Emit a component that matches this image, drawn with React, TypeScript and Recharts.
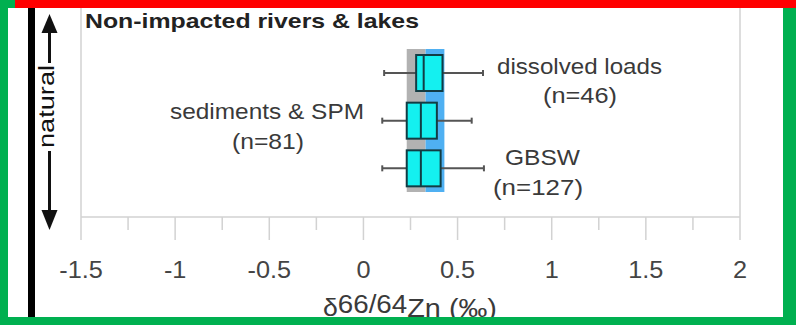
import { Bar, ComposedChart, ReferenceArea, ReferenceLine, XAxis, YAxis } from 'recharts';

// box plot rows, top to bottom
const groups = ['dissolved loads', 'sediments & SPM', 'GBSW'];
const counts = [46, 81, 127];
const whiskerLow = [0.11, 0.1, 0.1];
const q1 = [0.28, 0.23, 0.23];
const median = [0.32, 0.305, 0.305];
const q3 = [0.42, 0.39, 0.41];
const whiskerHigh = [0.635, 0.575, 0.64];

// shaded reference ranges
const grayRange = [0.23, 0.33];
const blueRange = [0.33, 0.43];

const majorTicks = [-1.5, -1, -0.5, 0, 0.5, 1, 1.5, 2];
const minorTicks = [-1.25, -0.75, -0.25, 0.25, 0.75, 1.25, 1.75];

const rows = groups.map((name, i) => ({
  name,
  n: counts[i],
  lo: whiskerLow[i],
  q1: q1[i],
  med: median[i],
  q3: q3[i],
  hi: whiskerHigh[i],
}));

const FONT = '"Liberation Sans", Arial, sans-serif';

function BoxShape(props: any) {
  const { x, y, width, height, payload } = props;
  const ppu = width / (payload.hi - payload.lo);
  const px = (v: number) => x + (v - payload.lo) * ppu;
  const mid = y + height / 2;
  return (
    <g>
      <line x1={px(payload.lo)} x2={px(payload.hi)} y1={mid} y2={mid} stroke="#555" strokeWidth={2} />
      <line x1={px(payload.lo)} x2={px(payload.lo)} y1={mid - 3} y2={mid + 3} stroke="#555" strokeWidth={2} />
      <line x1={px(payload.hi)} x2={px(payload.hi)} y1={mid - 3} y2={mid + 3} stroke="#555" strokeWidth={2} />
      <rect
        x={px(payload.q1)}
        y={y}
        width={px(payload.q3) - px(payload.q1)}
        height={height}
        fill="#14f0f0"
        stroke="#123c44"
        strokeWidth={2}
      />
      <line x1={px(payload.med)} x2={px(payload.med)} y1={y} y2={y + height} stroke="#123c44" strokeWidth={2} />
    </g>
  );
}

function AxisTick({ x, y, payload }: any) {
  const major = majorTicks.includes(payload.value);
  return (
    <g>
      <line x1={x} x2={x} y1={y} y2={y + (major ? 23 : 13)} stroke="#d2d2d2" strokeWidth={1.5} />
      {major ? (
        <text
          x={0}
          y={0}
          transform={`translate(${x},${y + 61}) scale(1.1,1)`}
          textAnchor="middle"
          fontSize={23}
          fill="#444"
          fontFamily={FONT}
        >
          {payload.value}
        </text>
      ) : null}
    </g>
  );
}

function Overlay() {
  const labelStyle = { fontFamily: FONT, fontSize: 22, fill: '#3a3a3a' };
  return (
    <svg width={796} height={325} style={{ position: 'absolute', left: 0, top: 0, pointerEvents: 'none' }}>
      <text x={85} y={28} fontFamily={FONT} fontSize={21} fontWeight="bold" fill="#222" textLength={334} lengthAdjust="spacingAndGlyphs">
        Non-impacted rivers &amp; lakes
      </text>

      <text x={497} y={74} {...labelStyle} textLength={165} lengthAdjust="spacingAndGlyphs">dissolved loads</text>
      <text x={543} y={103} {...labelStyle} textLength={74} lengthAdjust="spacingAndGlyphs">(n={counts[0]})</text>
      <text x={170} y={119} {...labelStyle} textLength={194} lengthAdjust="spacingAndGlyphs">sediments &amp; SPM</text>
      <text x={232} y={149} {...labelStyle} textLength={72} lengthAdjust="spacingAndGlyphs">(n={counts[1]})</text>
      <text x={505} y={165} {...labelStyle} textLength={75} lengthAdjust="spacingAndGlyphs">GBSW</text>
      <text x={493} y={195} {...labelStyle} textLength={90} lengthAdjust="spacingAndGlyphs">(n={counts[2]})</text>

      <text x={323} y={316} fontFamily={FONT} fill="#3a3a3a" textLength={174} lengthAdjust="spacingAndGlyphs">
        <tspan fontSize={24}>δ</tspan>
        <tspan fontSize={25} dy={-3}>66/64</tspan>
        <tspan fontSize={26} dy={4}>Zn (‰)</tspan>
      </text>

      {/* natural arrow */}
      <rect x={28} y={8} width={7} height={309} fill="#000" />
      <line x1={49.5} x2={49.5} y1={30} y2={63} stroke="#111" strokeWidth={3} />
      <line x1={49.5} x2={49.5} y1={151} y2={212} stroke="#111" strokeWidth={3} />
      <polygon points="49.5,14 41.5,33 57.5,33" fill="#111" />
      <polygon points="49.5,230 41.5,210 57.5,210" fill="#111" />
      <text
        transform="translate(54,106.5) rotate(-90)"
        textAnchor="middle"
        fontFamily={FONT}
        fontSize={22}
        fill="#111"
        textLength={83}
        lengthAdjust="spacingAndGlyphs"
      >
        natural
      </text>

      {/* frame */}
      <rect x={15} y={0} width={781} height={8} fill="#ff0000" />
      <rect x={0} y={0} width={15} height={8} fill="#00b050" />
      <rect x={0} y={0} width={8} height={325} fill="#00b050" />
      <rect x={783} y={8} width={13} height={317} fill="#00b050" />
      <rect x={0} y={317} width={796} height={8} fill="#00b050" />
    </svg>
  );
}

export default function App() {
  return (
    <div style={{ position: 'absolute', left: 0, top: 0, width: 796, height: 325, background: '#fff' }}>
      <ComposedChart
        width={796}
        height={325}
        data={rows}
        layout="vertical"
        margin={{ top: 8, right: 56, left: 81, bottom: 48 }}
      >
        <ReferenceArea x1={grayRange[0]} x2={grayRange[1]} fill="#b2b2b2" fillOpacity={1} stroke="none" />
        <ReferenceArea x1={blueRange[0]} x2={blueRange[1]} fill="#4fb0f2" fillOpacity={1} stroke="none" />
        <ReferenceLine x={-1.5} stroke="#d2d2d2" strokeWidth={1.5} />
        <ReferenceLine x={2} stroke="#d2d2d2" strokeWidth={1.5} />
        <XAxis
          type="number"
          domain={[-1.5, 2]}
          ticks={[...majorTicks, ...minorTicks].sort((a, b) => a - b)}
          interval={0}
          tickLine={false}
          tickSize={0}
          tickMargin={0}
          height={60}
          axisLine={{ stroke: '#d2d2d2', strokeWidth: 1.5 }}
          tick={<AxisTick />}
        />
        <YAxis type="category" dataKey="name" hide padding={{ top: 41, bottom: 25 }} />
        <Bar dataKey={(d: any) => [d.lo, d.hi]} barSize={36} shape={<BoxShape />} isAnimationActive={false} />
      </ComposedChart>
      <Overlay />
    </div>
  );
}
